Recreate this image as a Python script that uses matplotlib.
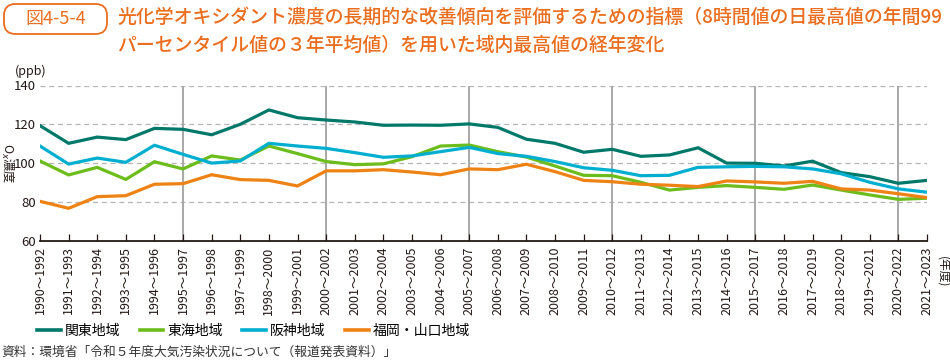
import matplotlib
matplotlib.use('Agg')
import matplotlib.pyplot as plt
from matplotlib.lines import Line2D
from matplotlib.patches import FancyBboxPatch

plt.rcParams['font.family'] = ['Noto Sans CJK JP', 'DejaVu Sans']

# --- data ---
start_years = list(range(1990, 2022))
periods = [f'{y}～{y + 2}' for y in start_years]

kanto = [119.3, 110.2, 113.4, 112.1, 117.9, 117.4, 114.6, 120.0, 127.4, 123.4,
         122.2, 121.2, 119.5, 119.6, 119.5, 120.2, 118.4, 112.3, 110.2, 105.6,
         107.1, 103.5, 104.2, 107.9, 100.0, 99.9, 98.5, 101.0, 95.1, 93.0,
         89.6, 91.1]
tokai = [101.1, 93.9, 97.8, 91.6, 100.7, 97.0, 103.7, 101.6, 108.8, 104.9,
         100.8, 99.2, 99.6, 103.3, 108.8, 109.3, 105.9, 103.1, 98.5, 93.7,
         93.5, 90.1, 86.1, 87.5, 88.4, 87.5, 86.5, 88.7, 86.1, 83.6,
         81.3, 81.9]
hanshin = [108.8, 99.5, 102.6, 100.4, 109.2, 104.5, 100.0, 101.1, 110.2, 108.8,
           107.6, 105.4, 103.0, 103.7, 105.9, 108.1, 104.9, 103.5, 100.8, 97.6,
           96.3, 93.5, 93.7, 97.8, 98.1, 98.3, 98.1, 97.0, 94.5, 90.1,
           86.7, 85.0]
fukuoka = [80.3, 76.7, 82.7, 83.2, 89.1, 89.4, 94.0, 91.5, 91.1, 88.2,
           96.0, 96.0, 96.6, 95.4, 94.0, 97.0, 96.6, 99.4, 95.6, 91.1,
           90.4, 89.1, 88.6, 87.9, 90.8, 90.3, 89.6, 90.6, 86.7, 86.1,
           84.2, 82.2]

series_names = ['関東地域', '東海地域', '阪神地域', '福岡・山口地域']
series_vals = [kanto, tokai, hanshin, fukuoka]
colors = ['#00786A', '#6CBD1C', '#00AFD0', '#EE8214']

y_ticks = [60, 80, 100, 120, 140]
orange = '#EB6D1E'
dark = '#231815'
W, H = 950, 362

fig = plt.figure(figsize=(9.5, 3.62), dpi=100)
ax = fig.add_axes([40 / W, 1 - 240.7 / H, 887 / W, (240.7 - 85.5) / H])

x = list(range(len(periods)))

# vertical reference lines every 5 periods
for i in range(5, len(x), 5):
    ax.axvline(i, color='#A8A8A8', lw=1.4, zorder=1)

for v in y_ticks[1:]:
    ax.axhline(v, color='#B5B5B5', lw=0.9, ls=(0, (4, 3)), zorder=0)

for name, vals, c in zip(series_names, series_vals, colors):
    ax.plot(x, vals, color=c, lw=2.3, solid_joinstyle='miter', zorder=3, label=name)

ax.set_xlim(0, len(x) - 1)
ax.set_ylim(60, 140)
ax.set_yticks(y_ticks)
ax.set_yticklabels([str(v) for v in y_ticks], fontsize=9.5, color=dark)
ax.set_xticks(x)
ax.set_xticklabels(periods, rotation=90, fontsize=9, color=dark)
ax.tick_params(axis='x', direction='in', length=5, width=0.9, color=dark, pad=4)
ax.tick_params(axis='y', length=0, pad=3)

for s in ['top', 'right', 'left']:
    ax.spines[s].set_visible(False)
ax.spines['bottom'].set_color(dark)
ax.spines['bottom'].set_linewidth(1.3)

# axis annotations
fig.text(15 / W, 1 - 71 / H, '(ppb)', fontsize=9, color=dark, va='center', ha='left')
fig.text(7 / W, 1 - 163 / H, 'O$_x$濃度', fontsize=8.8, color=dark,
         rotation=270, va='center', ha='center')
fig.text(943 / W, 1 - 272 / H, '(年度)', fontsize=8.5, color=dark,
         rotation=270, va='center', ha='center')

# legend
handles = [Line2D([0], [0], color=c, lw=2.6) for c in colors]
fig.legend(handles, series_names, loc='center left', bbox_to_anchor=(37 / W, 1 - 331 / H),
           ncol=4, frameon=False, fontsize=10, handlelength=1.7, handletextpad=0.3,
           columnspacing=1.4, borderaxespad=0, borderpad=0)

# source
fig.text(1 / W, 1 - 352 / H, '資料：環境省「令和５年度大気汚染状況について（報道発表資料）」',
         fontsize=9.2, color='#333333', va='center', ha='left')

# title box
box = FancyBboxPatch((4 / W, 1 - 34 / H), 103 / W, 30 / H,
                     boxstyle='round,pad=0,rounding_size=0.012',
                     transform=fig.transFigure, fc='white', ec=orange, lw=1.3,
                     mutation_aspect=W / H)
fig.add_artist(box)
fig.text(55.5 / W, 1 - 19 / H, '図4-5-4', fontsize=13, color=orange, va='center', ha='center')
fig.text(117 / W, 1 - 17 / H,
         '光化学オキシダント濃度の長期的な改善傾向を評価するための指標（8時間値の日最高値の年間99',
         fontsize=13.6, color=orange, va='center', ha='left', fontweight='medium')
fig.text(117 / W, 1 - 45 / H,
         'パーセンタイル値の３年平均値）を用いた域内最高値の経年変化',
         fontsize=13.6, color=orange, va='center', ha='left', fontweight='medium')

fig.savefig('out.png', dpi=100)
